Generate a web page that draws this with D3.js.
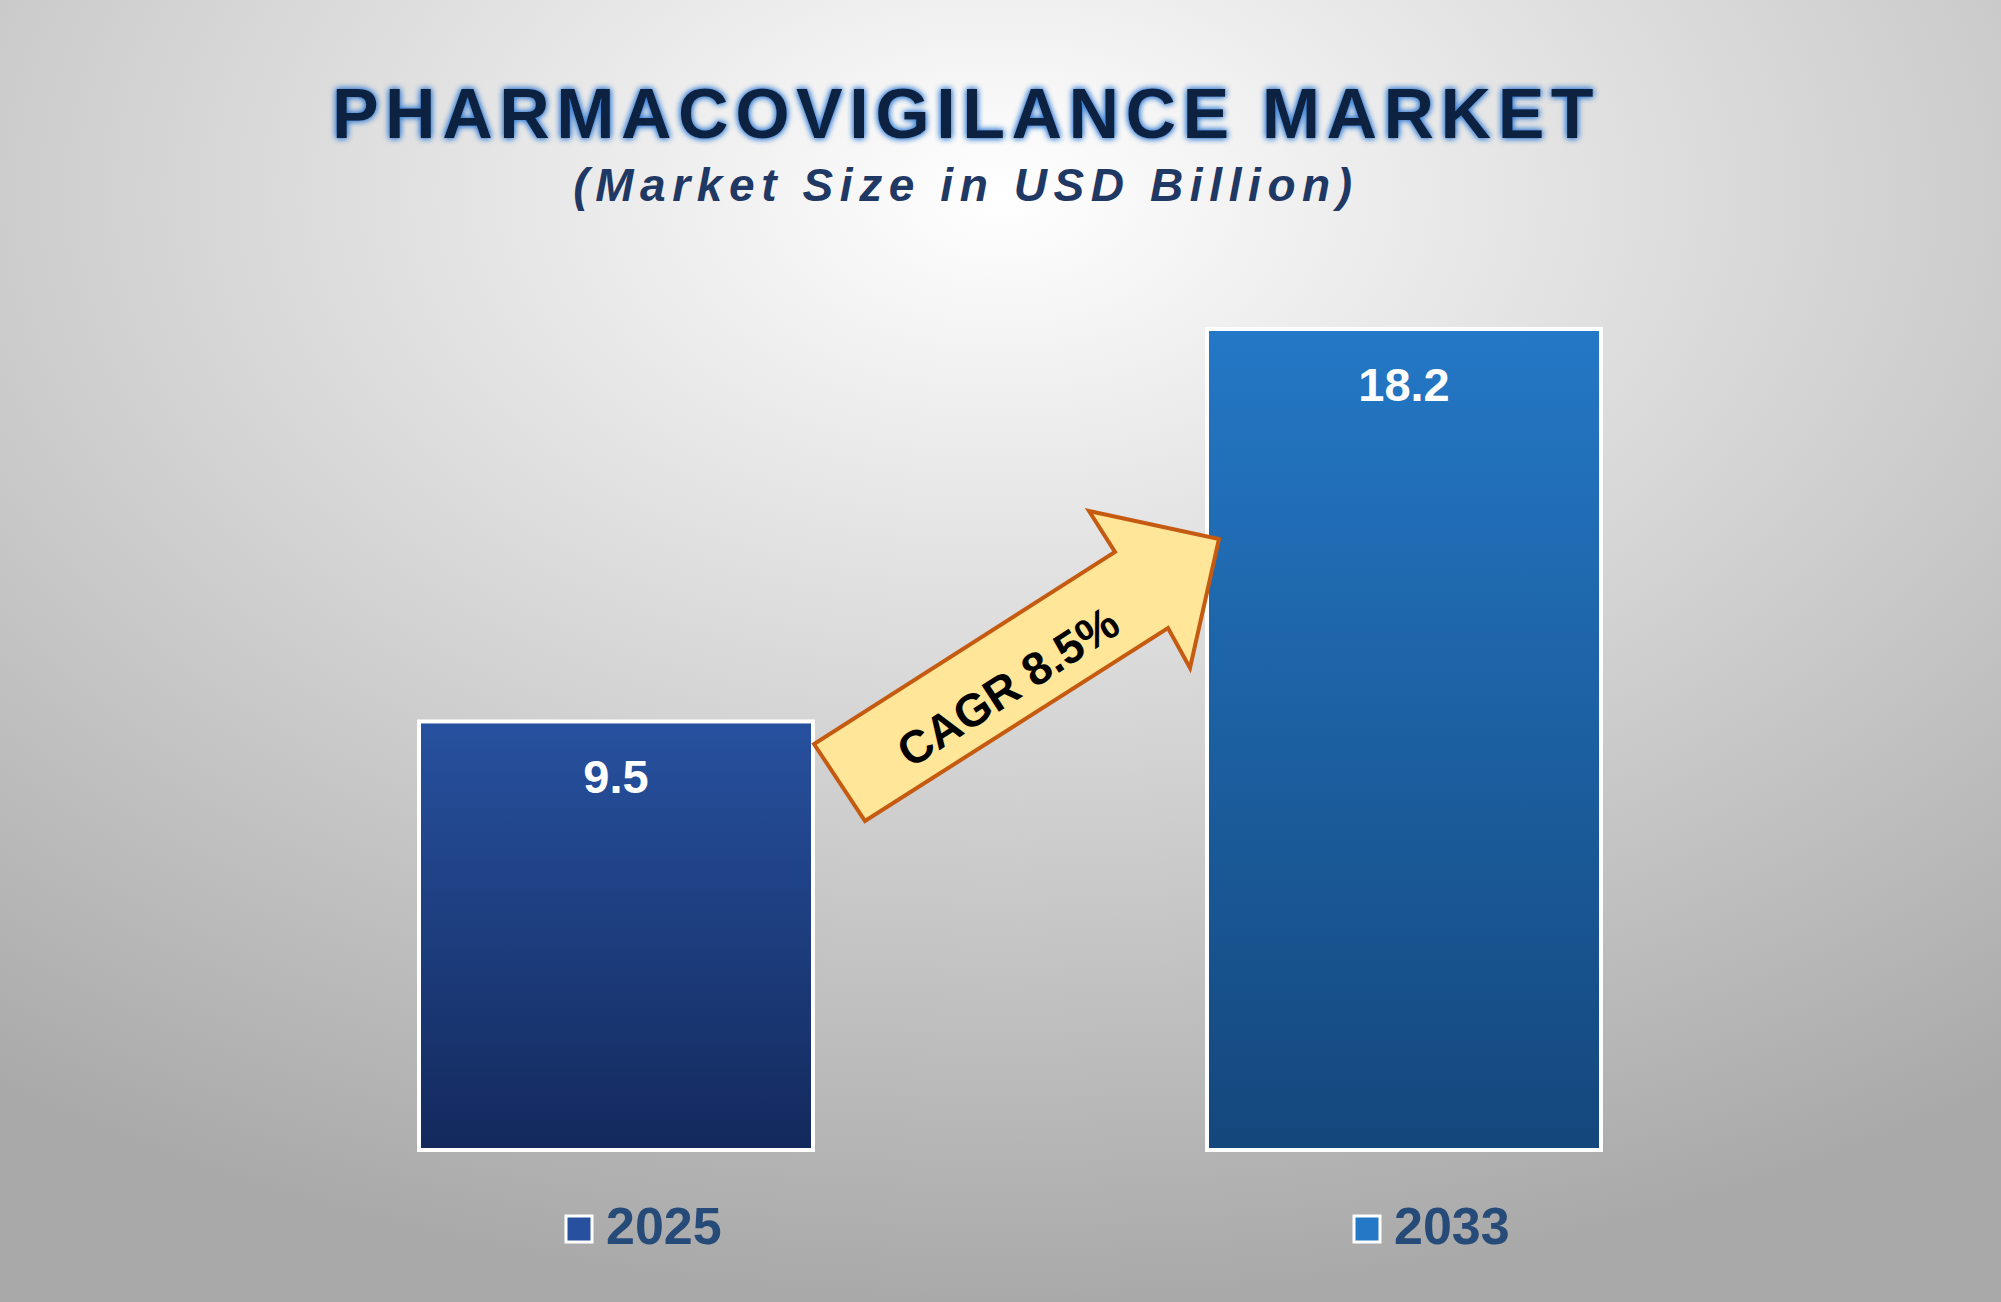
<!DOCTYPE html>
<meta charset="utf-8">
<html>
<head>
<script src="https://d3js.org/d3.v7.min.js"></script>
<style>
body { margin:0; overflow:hidden; }
</style>
</head>
<body>
<div id="chart"></div>
<script>
// data
const years = ["2025", "2033"];
const values = [9.5, 18.2];
const cagrLabel = "CAGR 8.5%";

const W = 2001, H = 1302;
const svg = d3.select("#chart").append("svg").attr("width", W).attr("height", H)
  .style("font-family", "Liberation Sans, Arial, sans-serif");
const defs = svg.append("defs");

// background
const bg = defs.append("radialGradient").attr("id", "bg")
  .attr("cx", "50%").attr("cy", "15%").attr("r", "85%");
bg.append("stop").attr("offset", "0%").attr("stop-color", "#ffffff");
bg.append("stop").attr("offset", "100%").attr("stop-color", "#a9a9a9");
svg.append("rect").attr("width", W).attr("height", H).attr("fill", "url(#bg)");

const grads = [["#27519f", "#13295c"], ["#2478c6", "#14477c"]];
grads.forEach((g, i) => {
  const lg = defs.append("linearGradient").attr("id", "bar" + i)
    .attr("x1", 0).attr("x2", 0).attr("y1", 0).attr("y2", 1);
  lg.append("stop").attr("offset", "0%").attr("stop-color", g[0]);
  lg.append("stop").attr("offset", "100%").attr("stop-color", g[1]);
});

const glow = defs.append("filter").attr("id", "glow").attr("x", "-10%").attr("y", "-30%")
  .attr("width", "120%").attr("height", "160%");
glow.append("feGaussianBlur").attr("in", "SourceAlpha").attr("stdDeviation", 3).attr("result", "b");
glow.append("feFlood").attr("flood-color", "#3b7fd4");
glow.append("feComposite").attr("in2", "b").attr("operator", "in").attr("result", "g");
const m = glow.append("feMerge");
m.append("feMergeNode").attr("in", "g");
m.append("feMergeNode").attr("in", "g");
m.append("feMergeNode").attr("in", "SourceGraphic");

// titles
svg.append("text").attr("x", 966).attr("y", 138).attr("text-anchor", "middle")
  .attr("font-size", 70).attr("font-weight", "bold").attr("letter-spacing", 6.5)
  .attr("fill", "#0d2240").attr("filter", "url(#glow)")
  .text("PHARMACOVIGILANCE MARKET");
svg.append("text").attr("x", 966).attr("y", 201).attr("text-anchor", "middle")
  .attr("font-size", 46).attr("font-weight", "bold").attr("font-style", "italic")
  .attr("letter-spacing", 6.6).attr("fill", "#1f3864")
  .text("(Market Size in USD Billion)");

// scales
const x = d3.scaleBand().domain(years).range([419, 1601]).paddingInner(0.5).paddingOuter(0);
const y = d3.scaleLinear().domain([0, 18.2]).range([1150, 329]);

svg.selectAll(".bar").data(values).enter().append("rect")
  .attr("x", (d, i) => x(years[i])).attr("width", x.bandwidth())
  .attr("y", d => y(d)).attr("height", d => y(0) - y(d))
  .attr("fill", (d, i) => `url(#bar${i})`)
  .attr("stroke", "#ffffff").attr("stroke-width", 4);

svg.selectAll(".val").data(values).enter().append("text")
  .attr("x", (d, i) => x(years[i]) + x.bandwidth() / 2).attr("y", d => y(d) + 72)
  .attr("text-anchor", "middle").attr("font-size", 47).attr("font-weight", "bold")
  .attr("fill", "#ffffff").text(d => d);

// legend under bars
years.forEach((yr, i) => {
  const cx = x(yr) + x.bandwidth() / 2;
  const g = svg.append("g").attr("transform", `translate(${cx - 24},1244)`);
  g.append("rect").attr("x", -26).attr("y", -28).attr("width", 26).attr("height", 26)
    .attr("fill", grads[i][0]).attr("stroke", "#fff").attr("stroke-width", 3);
  g.append("text").attr("x", 14).attr("y", 0).attr("font-size", 52).attr("font-weight", "bold")
    .attr("fill", "#274b78").text(yr);
});

// CAGR arrow
const arrow = [[814, 744], [865, 821], [1168, 628], [1190, 668], [1219, 539], [1089, 511], [1115, 552]];
svg.append("path").attr("d", d3.line()(arrow) + "Z")
  .attr("fill", "#ffe699").attr("stroke", "#c55a11").attr("stroke-width", 4).attr("stroke-linejoin", "miter");
svg.append("text").attr("transform", "translate(1010,690) rotate(-33)")
  .attr("text-anchor", "middle").attr("dominant-baseline", "middle")
  .attr("font-size", 46).attr("font-weight", "bold").attr("fill", "#000").text(cagrLabel);
</script>
</body>
</html>
